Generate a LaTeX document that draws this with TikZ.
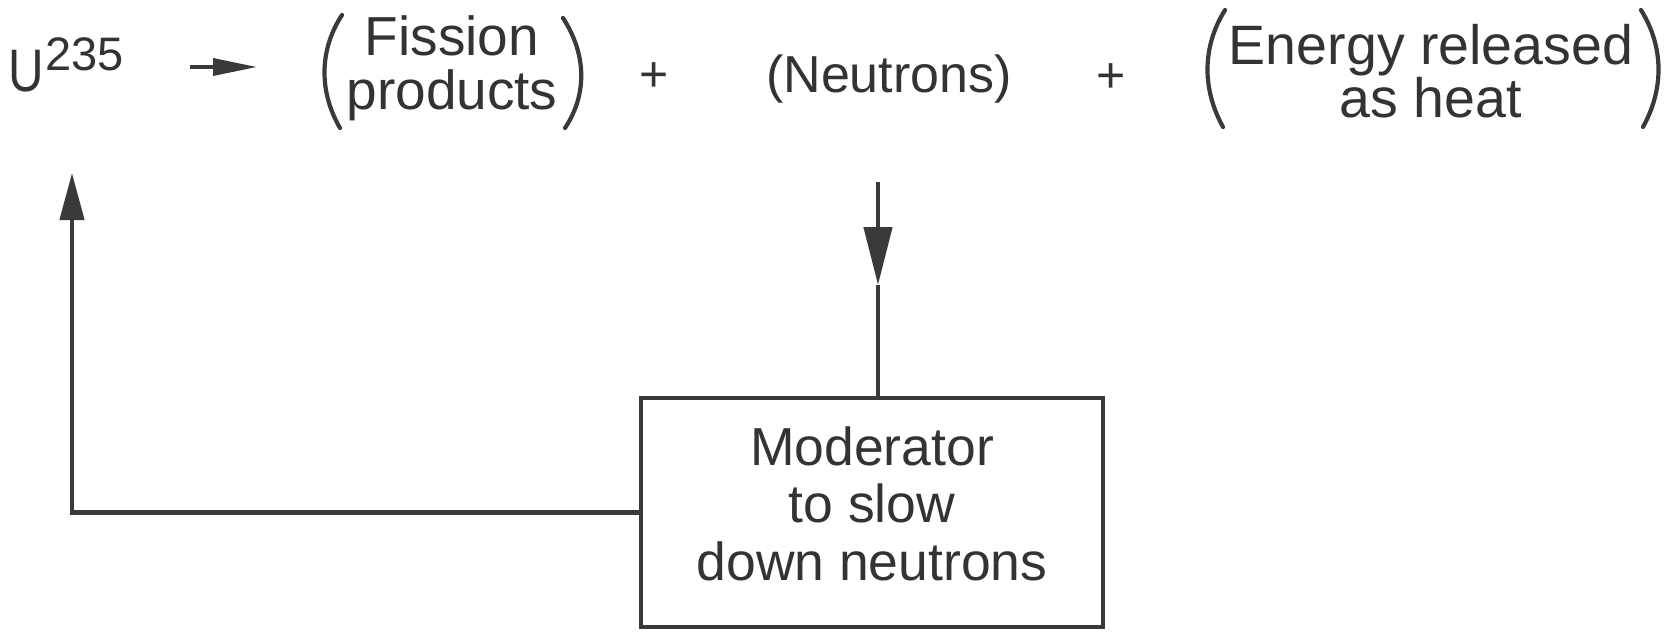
\documentclass[tikz,border=0pt]{standalone}
\usepackage{fontspec}
\setmainfont{Liberation Sans}
\usetikzlibrary{arrows.meta}
\definecolor{ink}{HTML}{333333}
\definecolor{lineink}{HTML}{3A3A3A}
\tikzset{
  txt/.style={inner sep=0pt, outer sep=0pt, text=ink, align=center},
  conn/.style={draw=lineink, line width=4.5pt},
  paren/.style={draw=lineink, line width=4.2pt, line cap=round},
  modbox/.style={draw=lineink, line width=4.5pt, inner sep=0pt, text=ink, align=center,
    minimum width=462pt, minimum height=229pt,
    font=\fontsize{53.5}{57.5}\selectfont},
}
\begin{document}
\begin{tikzpicture}[x=1pt, y=-1pt]
\useasboundingbox[fill=white] (0,0) rectangle (1675,632);

% equation line
\node[txt, anchor=base west, font=\fontsize{60}{60}\selectfont] (u) at (9,91)
  {\scalebox{0.82}[1]{U}\hspace{1pt}\raisebox{21pt}{\fontsize{47}{47}\selectfont 235}};
\coordinate (ra1) at (190,67);
\coordinate (ra2) at (257,67);
\draw[conn, line width=3.6pt, -{Triangle[length=44pt,width=17pt]}] (ra1) -- (ra2);

\node[txt, font=\fontsize{55}{54}\selectfont] (fp) at (452,68) {Fission\\products};
\draw[paren] (342,15) .. controls (319,50) and (319,92) .. (340,128);
\draw[paren] (563,18) .. controls (587,55) and (587,95) .. (565,128);

\node[txt, font=\fontsize{50}{50}\selectfont] (plus1) at (654,77) {+};

\node[txt, anchor=base, font=\fontsize{52}{52}\selectfont] (neut) at (889,92) {(Neutrons)};

\node[txt, font=\fontsize{50}{50}\selectfont] (plus2) at (1111,78) {+};

\node[txt, font=\fontsize{55.5}{50}\selectfont] (en) at (1431,71) {Energy released\\as heat};
\draw[paren] (1225,10) .. controls (1202,47) and (1202,89) .. (1223,127);
\draw[paren] (1641,10) .. controls (1664,47) and (1664,89) .. (1643,127);

% moderator box
\node[modbox] (box) at (872,512.5)
  {Moderator\\to slow\\down neutrons\rule[-18pt]{0pt}{18pt}};

% neutrons down into moderator
\coordinate (nout) at (878,182);
\coordinate (ntip) at (878,285);
\draw[conn, -{Triangle[length=58pt,width=28pt]}] (nout) -- (ntip);
\draw[conn] (ntip) -- (ntip |- box.north);

% moderator back to U235
\coordinate (uin) at (72,173);
\draw[conn, line join=miter, -{Triangle[length=47pt,width=24pt]}] (box.west) -| (uin);
\end{tikzpicture}
\end{document}
